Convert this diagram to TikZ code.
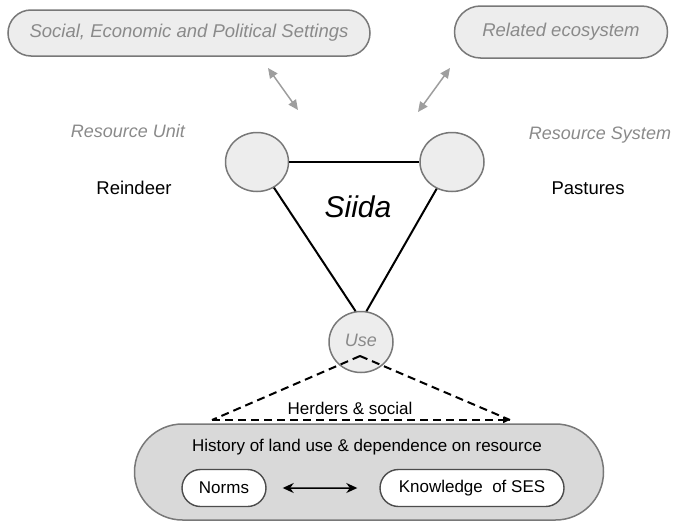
\documentclass[tikz,border=0pt]{standalone}
\usepackage{fontspec}
\setmainfont{Liberation Sans}
\usetikzlibrary{arrows.meta,calc,shapes.geometric,shapes.misc}
\definecolor{PillClr}{rgb}{0.93,0.93,0.93}
\definecolor{BaseClr}{rgb}{0.85,0.85,0.85}
\definecolor{EdgeClr}{rgb}{0.47,0.47,0.47}
\definecolor{LabelClr}{rgb}{0.54,0.54,0.54}
\definecolor{LinkClr}{rgb}{0.62,0.62,0.62}

\begin{document}
\begin{tikzpicture}[x=1pt,y=-1pt,
  toppill/.style={rounded rectangle,draw=EdgeClr,line width=1.5pt,fill=PillClr,
    text=LabelClr,font=\fontsize{18.5}{20}\selectfont\itshape,inner sep=0pt},
  unit/.style={ellipse,draw=EdgeClr,line width=1.5pt,fill=PillClr,inner sep=0pt},
  basepill/.style={rounded rectangle,draw=EdgeClr,line width=1.5pt,fill=BaseClr,inner sep=0pt},
  smallpill/.style={rounded rectangle,draw=black!70,line width=1.4pt,fill=white,
    font=\fontsize{17}{19}\selectfont,inner sep=0pt},
  greylabel/.style={text=LabelClr,font=\fontsize{18}{20}\selectfont\itshape},
  blacklabel/.style={font=\fontsize{18.5}{20}\selectfont},
  link/.style={draw=LinkClr,line width=1.5pt,{Triangle[length=10pt,width=9pt]}-{Triangle[length=10pt,width=9pt]}},
  tri/.style={line width=2pt,black},
  herd/.style={line width=2pt,dash pattern=on 8pt off 5pt}]
\useasboundingbox (0,0) rectangle (680,522);

% Step 1. Settings and ecosystem
\node[toppill,minimum width=362,minimum height=46] (sep) at (189,33) {Social, Economic and Political Settings};
\node[toppill,minimum width=213,minimum height=52] (eco) at (561,32) {\raisebox{3pt}{Related ecosystem}};
\coordinate (sa) at (268,68);
\coordinate (sb) at (298,110);
\coordinate (ea) at (450,68);
\coordinate (eb) at (418,112);
\draw[link] (sa) -- (sb);
\draw[link] (ea) -- (eb);

% Step 2. The triangle
\node[unit,minimum width=63,minimum height=59] (ru) at (257,162) {};
\node[unit,minimum width=64,minimum height=59] (rs) at (452,162) {};
\node[unit,minimum width=64,minimum height=61,text=LabelClr,
  font=\fontsize{18}{19}\selectfont\itshape] (use) at (361,342) {\raisebox{4pt}{Use}};
\draw[tri] (ru) -- (rs);
\draw[tri] (ru) -- (use.100);
\draw[tri] (rs) -- (use.80);
\node[font=\fontsize{30}{32}\selectfont\itshape] (siida) at (358,207) {Siida};

% Step 3. Labels
\node[greylabel] (unitlbl) at (128,131) {Resource Unit};
\node[blacklabel] (reindeer) at (134,188) {Reindeer};
\node[greylabel] (syslbl) at (600,135) {Resource System};
\node[blacklabel] (pastures) at (588,188) {Pastures};

% Step 4. Herders
\coordinate (apex) at (360,356);
\coordinate (hl) at (212,420);
\coordinate (hr) at (510,420);
\draw[herd] (apex) -- (hl);
\draw[herd] (apex) -- (hr);
\draw[herd,-{Triangle[length=7pt,width=6pt]}] (hl) -- (hr);
\node[font=\fontsize{17}{19}\selectfont] (herders) at (350,408) {Herders \& social};

% Step 5. History
\node[basepill,minimum width=469,minimum height=96] (hist) at (369,472) {};
\node[font=\fontsize{17}{19}\selectfont] (histlbl) at (367,447) {History of land use \& dependence on resource};
\node[smallpill,minimum width=84,minimum height=37] (norms) at (224,488) {Norms};
\node[smallpill,minimum width=184,minimum height=37] (know) at (472,488) {Knowledge~ of SES};
\draw[line width=1.5pt,{Stealth[length=11pt,width=10pt]}-{Stealth[length=11pt,width=10pt]},
  shorten <=16pt,shorten >=22pt] (norms) -- (know);

\end{tikzpicture}
\end{document}
